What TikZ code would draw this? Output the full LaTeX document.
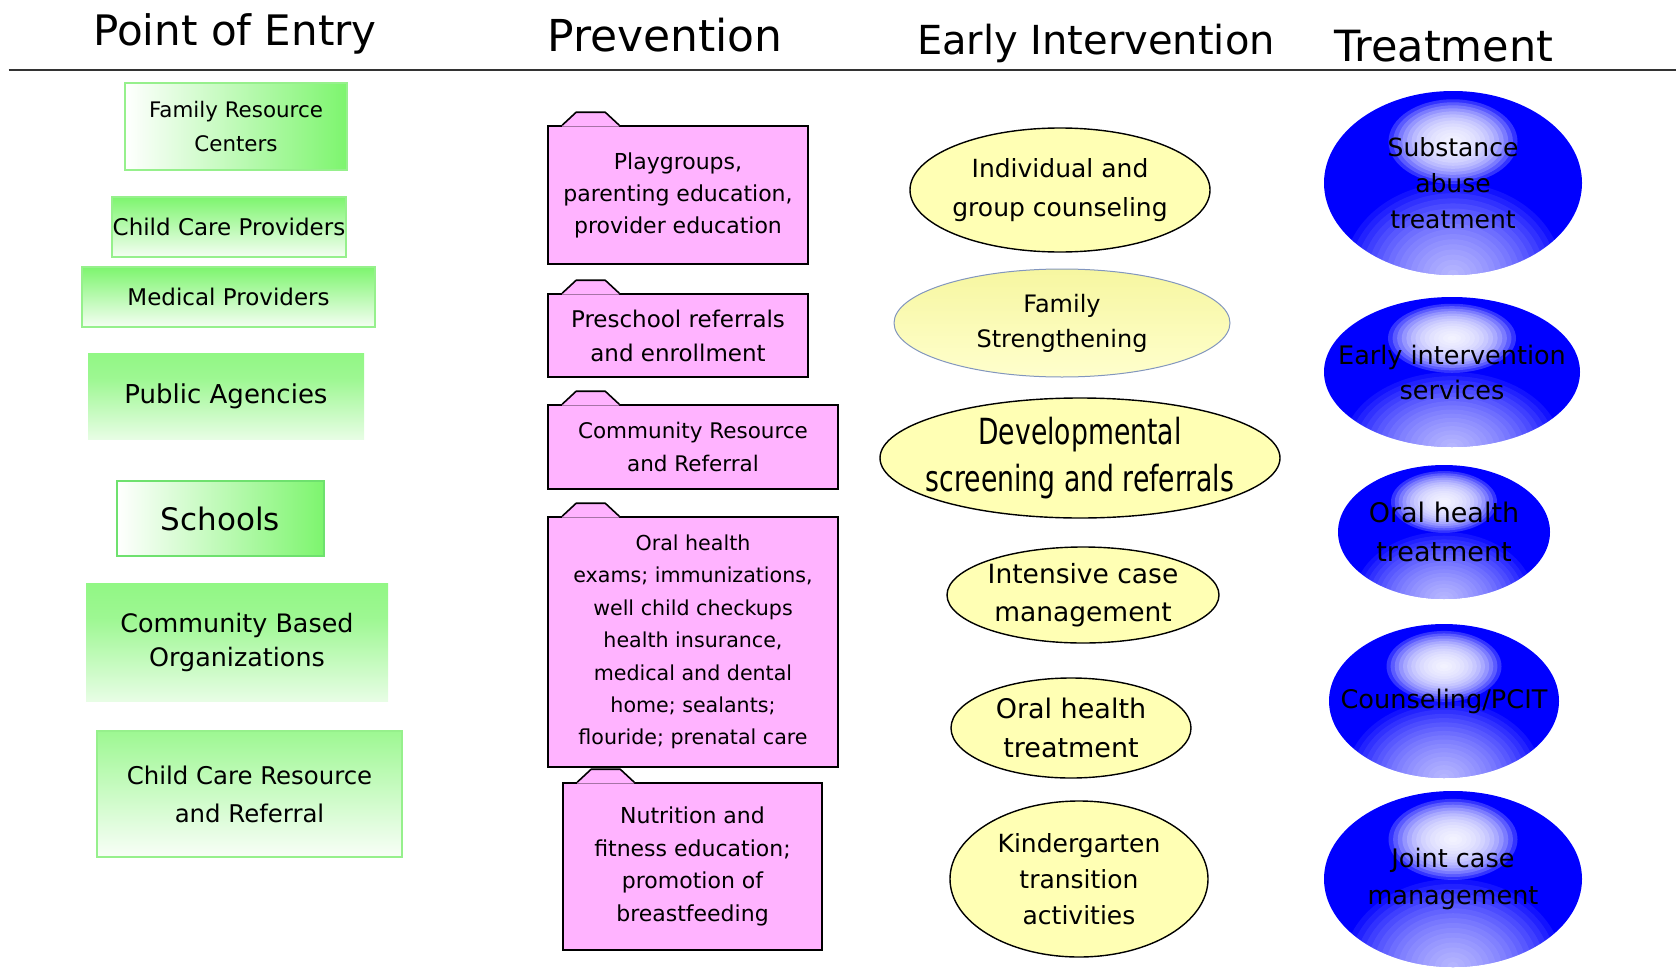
\documentclass[tikz,border=0pt]{standalone}
\usepackage{fontspec}
\setmainfont{DejaVu Sans}
\newfontfamily\condfont[FakeStretch=0.74]{DejaVu Sans}
\usetikzlibrary{shapes.geometric,calc}
\definecolor{gr}{RGB}{125,245,110}
\definecolor{grline}{RGB}{150,240,140}
\definecolor{grdark}{RGB}{110,225,110}
\definecolor{stripblue}{RGB}{210,220,238}
\definecolor{pinkfill}{RGB}{255,179,255}
\definecolor{yel}{RGB}{255,255,180}
\definecolor{yeltop}{RGB}{246,246,160}
\definecolor{yelbot}{RGB}{255,255,205}
\definecolor{yelline}{RGB}{130,150,190}
\definecolor{ballblue}{RGB}{0,0,255}
\pgfdeclareverticalshading{pagrad}{100bp}{color(0bp)=(stripblue); color(7bp)=(stripblue!60!white); color(13bp)=(white); color(20bp)=(gr!10!white); color(60bp)=(gr!75!white); color(100bp)=(gr)}
\tikzset{
  title/.style={anchor=base, text=black},
  greenbox/.style={draw=grline, line width=1.5pt, inner sep=0pt, align=center, text=black},
  pabox/.style={inner sep=0pt, align=center, text=black, shading=pagrad},
  pinkbox/.style={draw=black, line width=1.6pt, fill=pinkfill, inner sep=0pt, align=center, text=black},
  folderline/.style={draw=black, line width=1.6pt, line join=round},
  yelell/.style={ellipse, draw=black, line width=1.4pt, fill=yel, inner xsep=-40pt, inner ysep=-20pt, align=center, text=black},
  blueball/.style 2 args={ellipse, fill=ballblue, inner xsep=-40pt, inner ysep=-20pt, align=center, text=black,
    minimum width={2*#1 pt}, minimum height={2*#2 pt},
    path picture={
      \foreach \k in {0,...,17} {
        \fill[white, fill opacity=0.07] ([yshift={-#2*1pt}]path picture bounding box.center)
          ellipse ({#1*0.85*(1-\k/18)} and {#2*1.0*(1-\k/18)});
      }
      \foreach \k in {0,...,13} {
        \fill[white, fill opacity=0.2] ([yshift={#2*0.45pt}]path picture bounding box.center)
          ellipse ({#1*0.5*(1-\k/14)} and {#2*0.46*(1-\k/14)});
      }
    }},
}
\newcommand\foldertab[1]{%
  \fill[pinkfill] ($(#1.north west)+(15,1.3)$) -- ($(#1.north west)+(15,0)$) -- ($(#1.north west)+(29,-13)$) -- ($(#1.north west)+(58,-13)$) -- ($(#1.north west)+(72,0)$) -- ($(#1.north west)+(72,1.3)$) -- cycle;
  \draw[folderline] ($(#1.north west)+(15,0)$) -- ($(#1.north west)+(29,-13)$) -- ($(#1.north west)+(58,-13)$) -- ($(#1.north west)+(72,0)$);
}
\begin{document}
\begin{tikzpicture}[x=1pt,y=-1pt]
\useasboundingbox (0,0) rectangle (1676,969);
% titles
\node[title, font=\fontsize{42}{50}\selectfont] (t1) at (235,45) {Point of Entry};
\node[title, font=\fontsize{44}{50}\selectfont] (t2) at (665,51) {Prevention};
\node[title, font=\fontsize{40}{50}\selectfont] (t3) at (1096,54.5) {Early Intervention};
\node[title, font=\fontsize{43}{50}\selectfont] (t4) at (1444,61) {Treatment};
\coordinate (hl) at (8.5,69.5);
\coordinate (hr) at (1676,69.5);
\draw[line width=2pt, black!80] (hl) -- (hr);
% point of entry
\node[greenbox, minimum width=222pt, minimum height=87pt, left color=white, right color=gr, font=\fontsize{21.4}{34}\selectfont] (gA) at (236,126.5) {Family Resource\\Centers};
\node[greenbox, minimum width=234pt, minimum height=60pt, top color=gr, bottom color=gr!8!white, font=\fontsize{23}{30}\selectfont] (gB) at (229,227) {Child Care Providers};
\node[greenbox, minimum width=293pt, minimum height=60pt, top color=gr, bottom color=gr!8!white, font=\fontsize{23}{30}\selectfont] (gC) at (228.5,297) {Medical Providers};
\node[pabox, minimum width=276pt, minimum height=86pt, font=\fontsize{26}{34}\selectfont] (gD) at (226,396) {Public Agencies};
\node[greenbox, draw=grdark, line width=2pt, minimum width=207pt, minimum height=75pt, left color=white, right color=gr, font=\fontsize{31}{38}\selectfont] (gE) at (220.5,518.5) {Schools};
\node[pabox, minimum width=302pt, minimum height=118pt, font=\fontsize{25.4}{34}\selectfont] (gF) at (237,642) {Community Based\\Organizations};
\node[greenbox, minimum width=305pt, minimum height=126pt, top color=gr!75!white, bottom color=gr!5!white, font=\fontsize{24.4}{38}\selectfont] (gG) at (249.5,794) {Child Care Resource\\and Referral};
% prevention
\node[pinkbox, minimum width=260pt, minimum height=138pt, font=\fontsize{22}{32}\selectfont] (p1) at (678,195) {Playgroups,\\parenting education,\\provider education};
\foldertab{p1}
\node[pinkbox, minimum width=260pt, minimum height=83pt, font=\fontsize{23}{34}\selectfont] (p2) at (678,335.5) {Preschool referrals\\and enrollment};
\foldertab{p2}
\node[pinkbox, minimum width=290pt, minimum height=84pt, font=\fontsize{21.5}{33}\selectfont] (p3) at (693,447) {Community Resource\\and Referral};
\foldertab{p3}
\node[pinkbox, minimum width=290pt, minimum height=250pt, font=\fontsize{20.6}{32.4}\selectfont] (p4) at (693,642) {Oral health\\exams; immunizations,\\well child checkups\\health insurance,\\medical and dental\\home; sealants;\\flouride; prenatal care};
\foldertab{p4}
\node[pinkbox, minimum width=259pt, minimum height=167pt, font=\fontsize{22}{32.4}\selectfont] (p5) at (692.5,866.5) {Nutrition and\\fitness education;\\promotion of\\breastfeeding};
\foldertab{p5}
% early intervention
\node[yelell, minimum width=300pt, minimum height=124pt, font=\fontsize{25}{38.5}\selectfont] (y1) at (1060,190) {Individual and\\group counseling};
\node[yelell, draw=yelline, line width=1pt, top color=yeltop, bottom color=yelbot, minimum width=336pt, minimum height=108pt, font=\fontsize{24}{35}\selectfont] (y2) at (1062,323) {Family\\Strengthening};
\node[yelell, minimum width=400pt, minimum height=120pt, font=\condfont\fontsize{36}{47}\selectfont] (y3) at (1080,458) {Developmental\\screening and referrals};
\node[yelell, minimum width=272pt, minimum height=96pt, font=\fontsize{26.5}{38.5}\selectfont] (y4) at (1083,595) {Intensive case\\management};
\node[yelell, minimum width=240pt, minimum height=100pt, font=\fontsize{27}{39.5}\selectfont] (y5) at (1071,728) {Oral health\\treatment};
\node[yelell, minimum width=258pt, minimum height=156pt, font=\fontsize{25}{36}\selectfont] (y6) at (1079,879) {Kindergarten\\transition\\activities};
% treatment
\node[blueball={129}{92}, font=\fontsize{25}{36}\selectfont] (b1) at (1453,183) {Substance\\abuse\\treatment};
\node[blueball={128}{75}, font=\fontsize{25.5}{35}\selectfont] (b2) at (1452,372) {Early intervention\\services};
\node[blueball={106}{67}, font=\fontsize{27}{39.5}\selectfont] (b3) at (1444,532) {Oral health\\treatment};
\node[blueball={115}{77}, font=\fontsize{25.6}{35}\selectfont] (b4) at (1444,701) {Counseling/PCIT};
\node[blueball={129}{88}, font=\fontsize{25.5}{37.5}\selectfont] (b5) at (1453,879) {Joint case\\management};
\end{tikzpicture}
\end{document}
